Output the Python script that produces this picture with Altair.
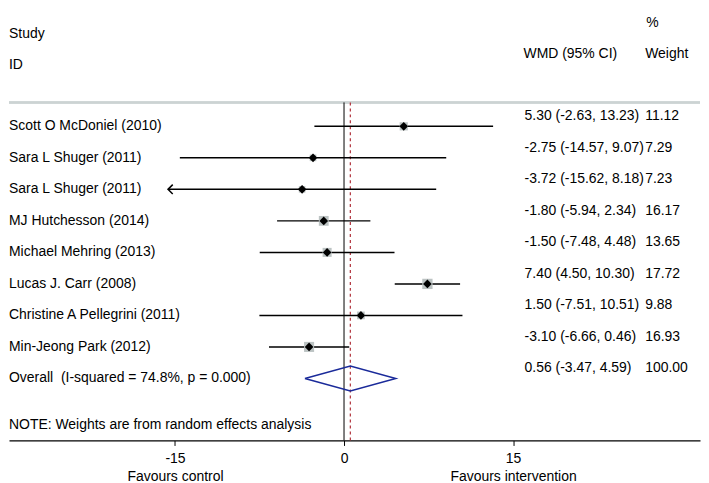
import altair as alt
import pandas as pd

# ---- data ----
studies = [
    "Scott O McDoniel (2010)",
    "Sara L Shuger (2011)",
    "Sara L Shuger (2011)",
    "MJ Hutchesson (2014)",
    "Michael Mehring (2013)",
    "Lucas J. Carr (2008)",
    "Christine A Pellegrini (2011)",
    "Min-Jeong Park (2012)",
]
wmd = [5.30, -2.75, -3.72, -1.80, -1.50, 7.40, 1.50, -3.10]
ci_low = [-2.63, -14.57, -15.62, -5.94, -7.48, 4.50, -7.51, -6.66]
ci_high = [13.23, 9.07, 8.18, 2.34, 4.48, 10.30, 10.51, 0.46]
weights = [11.12, 7.29, 7.23, 16.17, 13.65, 17.72, 9.88, 16.93]

overall_label = "Overall \u00a0(I-squared = 74.8%, p = 0.000)"
overall_wmd = 0.56
overall_low = -3.47
overall_high = 4.59
overall_weight = 100.00

tick_values = [-15, 0, 15]
note_text = "NOTE: Weights are from random effects analysis"

# ---- tables ----
rows = list(range(1, len(studies) + 1))
df = pd.DataFrame({
    "label": studies, "wmd": wmd, "lo": ci_low, "hi": ci_high,
    "w": weights, "row": rows,
})
df["ci_text"] = [f"{e:.2f} ({l:.2f}, {h:.2f})" for e, l, h in zip(wmd, ci_low, ci_high)]
df["w_text"] = [f"{w:.2f}" for w in weights]
arrows = df[df["lo"] < min(tick_values)]

orow = len(studies) + 1
ov = pd.DataFrame({
    "label": [overall_label], "row": [orow], "wmd": [overall_wmd], "zero": [0.0],
    "ci_text": [f"{overall_wmd:.2f} ({overall_low:.2f}, {overall_high:.2f})"],
    "w_text": [f"{overall_weight:.2f}"],
})
labels_df = pd.concat([df[["label", "row", "ci_text", "w_text"]],
                       ov[["label", "row", "ci_text", "w_text"]]], ignore_index=True)

half = 0.395
diamond = pd.DataFrame({
    "x": [overall_low, overall_wmd, overall_high, overall_wmd, overall_low],
    "y": [orow, orow - half, orow, orow + half, orow],
    "o": [0, 1, 2, 3, 4],
})

# ---- layout ----
W, H = 693, 433
xs = alt.Scale(domain=[-29.73, 31.59], nice=False, zero=False)
ys = alt.Scale(domain=[-2.734, 10.968], reverse=True, nice=False, zero=False)
FONT = "Liberation Sans"
FS = 14

x_axis = alt.Axis(
    values=tick_values, title=None, grid=False, domainColor="black",
    domainWidth=1.2, tickColor="black", tickSize=5, labelPadding=6,
    labelFontSize=FS, labelFont=FONT, labelColor="black",
    labelFlush=False, labelOverlap=False, labelLineHeight=18,
    labelExpr="datum.value == -15 ? ['-15', 'Favours control'] : "
              "(datum.value == 15 ? ['15', 'Favours intervention'] : datum.label)",
)

def X(field):
    return alt.X(field, type="quantitative", scale=xs, axis=x_axis)

def Y(field):
    return alt.Y(field, type="quantitative", scale=ys, axis=None)

base = alt.Chart(df)

header_line = alt.Chart(df).mark_rule(color="#ccd3d3", strokeWidth=1.5).encode(
    x=alt.value(0), x2=alt.value(W), y=alt.value(94))

zero_line = alt.Chart(ov).mark_rule(color="black", strokeWidth=1).encode(
    x=X("zero"), y=alt.value(94), y2=alt.value(H))

overall_line = alt.Chart(ov).mark_rule(color="#b0303a", strokeWidth=1.2, strokeDash=[3, 3]).encode(
    x=X("wmd"), y=alt.value(94), y2=alt.value(H))

ci = base.mark_rule(color="black", strokeWidth=1.5).encode(
    x=X("lo"), x2="hi:Q", y=Y("row"))

arrow = alt.Chart(arrows).mark_point(
    shape="M 1 -1 L 0 0 L 1 1", filled=False, color="black", strokeWidth=1.5,
    size=90, opacity=1).encode(x=X("lo"), y=Y("row"))

boxes = base.mark_square(color="#bcc3c3", opacity=1).encode(
    x=X("wmd"), y=Y("row"),
    size=alt.Size("w:Q", scale=alt.Scale(domain=[0, 20], range=[0, 120]), legend=None))

points = base.mark_point(shape="diamond", filled=True, color="black", size=75, opacity=1).encode(
    x=X("wmd"), y=Y("row"))

diam = alt.Chart(diamond).mark_line(color="#1a2a9a", strokeWidth=1.5).encode(
    x=X("x"), y=Y("y"), order="o:Q")

tstyle = dict(font=FONT, fontSize=FS, color="black", align="left", baseline="middle")

study_text = alt.Chart(labels_df).mark_text(**tstyle).encode(
    x=alt.value(0), y=Y("row"), text="label:N")
ci_txt = alt.Chart(labels_df).mark_text(dy=-10, **tstyle).encode(
    x=alt.value(517), y=Y("row"), text="ci_text:N")
w_txt = alt.Chart(labels_df).mark_text(dy=-10, **tstyle).encode(
    x=alt.value(638), y=Y("row"), text="w_text:N")

def htext(txt, x, y):
    return alt.Chart(pd.DataFrame({"t": [txt]})).mark_text(**tstyle).encode(
        x=alt.value(x), y=alt.value(y), text="t:N")

headers = [
    htext("Study", 0, 25), htext("ID", 0, 56),
    htext("%", 639, 14), htext("WMD (95% CI)", 516, 45), htext("Weight", 638, 45),
    htext(note_text, 0, 418),
]

chart = alt.layer(
    header_line, zero_line, overall_line, ci, arrow, boxes, points, diam,
    study_text, ci_txt, w_txt, *headers,
).properties(width=W, height=H, padding=0).configure_view(stroke=None)

chart.save("out.html", embed_options={"renderer": "svg", "actions": False})
